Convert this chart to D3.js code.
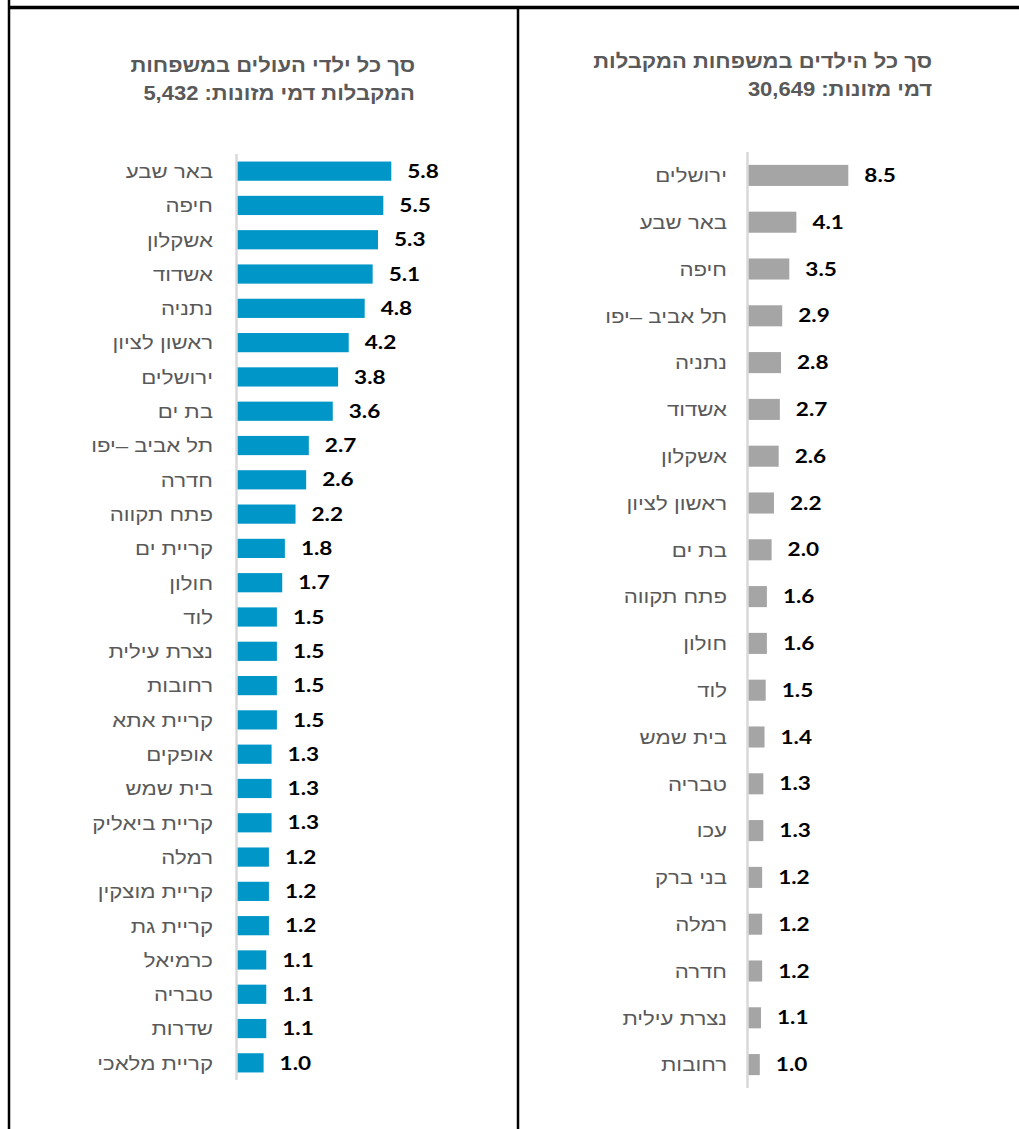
<!DOCTYPE html>
<html><head><meta charset="utf-8">
<script src="https://cdn.jsdelivr.net/npm/d3@7"></script>
<style>
html,body{margin:0;padding:0;background:#fff;}
svg{display:block;}
</style></head>
<body>
<svg id="chart" width="1019" height="1129"></svg>
<script>
const leftTitle = ["סך כל ילדי העולים במשפחות", "המקבלות דמי מזונות: 5,432"];
const leftCats = ["באר שבע","חיפה","אשקלון","אשדוד","נתניה","ראשון לציון","ירושלים","בת ים","תל אביב –יפו","חדרה","פתח תקווה","קריית ים","חולון","לוד","נצרת עילית","רחובות","קריית אתא","אופקים","בית שמש","קריית ביאליק","רמלה","קריית מוצקין","קריית גת","כרמיאל","טבריה","שדרות","קריית מלאכי"];
const leftVals = [5.8,5.5,5.3,5.1,4.8,4.2,3.8,3.6,2.7,2.6,2.2,1.8,1.7,1.5,1.5,1.5,1.5,1.3,1.3,1.3,1.2,1.2,1.2,1.1,1.1,1.1,1.0];

const rightTitle = ["סך כל הילדים במשפחות המקבלות", "דמי מזונות: 30,649"];
const rightCats = ["ירושלים","באר שבע","חיפה","תל אביב –יפו","נתניה","אשדוד","אשקלון","ראשון לציון","בת ים","פתח תקווה","חולון","לוד","בית שמש","טבריה","עכו","בני ברק","רמלה","חדרה","נצרת עילית","רחובות"];
const rightVals = [8.5,4.1,3.5,2.9,2.8,2.7,2.6,2.2,2.0,1.6,1.6,1.5,1.4,1.3,1.3,1.2,1.2,1.2,1.1,1.0];

const svg = d3.select("#chart");

// frame lines
svg.append("line").attr("x1",9).attr("x2",9).attr("y1",0).attr("y2",1129).attr("stroke","#000").attr("stroke-width",2.5);
svg.append("line").attr("x1",9).attr("x2",1019).attr("y1",7.5).attr("y2",7.5).attr("stroke","#000").attr("stroke-width",3.5);
svg.append("line").attr("x1",518).attr("x2",518).attr("y1",7).attr("y2",1129).attr("stroke","#000").attr("stroke-width",2.5);

const catFont = "'Liberation Sans', Arial, 'DejaVu Sans', sans-serif";
const numFont = "Lato, 'Open Sans', 'Liberation Sans', sans-serif";
const SX = 1.17;   // horizontal stretch of the reference text

function panel(cfg){
  const {cats, vals, title, x0, pxPerUnit, y0, y1, pad, color, titleX, titleY, labelGap} = cfg;
  const g = svg.append("g");
  const y = d3.scaleBand().domain(cats).range([y0, y1]).paddingInner(pad).paddingOuter(pad/2);
  const x = d3.scaleLinear().domain([0, 1]).range([x0, x0 + pxPerUnit]);

  // title
  title.forEach((t,i)=>{
    g.append("text")
      .attr("transform", `translate(${titleX},${titleY + i*28}) scale(1.1,1)`)
      .attr("direction","rtl").attr("text-anchor","start")
      .attr("font-family", catFont).attr("font-weight","bold").attr("font-size",20)
      .attr("fill","#595959").text(t);
  });

  // bars
  g.selectAll("rect.bar").data(vals).join("rect").attr("class","bar")
    .attr("x", x(0)).attr("y",(d,i)=>y(cats[i]))
    .attr("width", d=>x(d)-x(0)).attr("height", y.bandwidth())
    .attr("fill", color);

  // axis line
  const axis = d3.axisLeft(y).tickSize(0).tickFormat("");
  const ag = g.append("g").attr("transform",`translate(${x(0)-0.5},0)`).call(axis);
  ag.select(".domain").attr("stroke","#d9d9d9").attr("stroke-width",2.5)
    .attr("d", `M0,${y0}V${y1}`);

  // category labels
  g.selectAll("text.cat").data(cats).join("text").attr("class","cat")
    .attr("transform", d=>`translate(${x(0) - labelGap},${y(d)+y.bandwidth()/2}) scale(${SX},1)`)
    .attr("dy","0.36em")
    .attr("direction","rtl").attr("text-anchor","start")
    .attr("font-family", catFont).attr("font-size",19).attr("fill","#595959")
    .text(d=>d);

  // value labels
  g.selectAll("text.val").data(vals).join("text").attr("class","val")
    .attr("transform", (d,i)=>`translate(${x(d)+16},${y(cats[i])+y.bandwidth()/2}) scale(1.22,1)`)
    .attr("dy","0.36em")
    .attr("font-family", numFont).attr("font-weight","bold").attr("font-size",18.5).attr("fill","#000")
    .text(d=>d.toFixed(1));
}

panel({cats:leftCats, vals:leftVals, title:leftTitle, x0:237, pxPerUnit:26.6,
  y0:154, y1:1080, pad:0.44, color:"#0096c8", titleX:415, titleY:72, labelGap:24});
panel({cats:rightCats, vals:rightVals, title:rightTitle, x0:748, pxPerUnit:11.8,
  y0:152, y1:1088, pad:0.55, color:"#a5a5a5", titleX:932, titleY:68, labelGap:21});
</script>
</body></html>
